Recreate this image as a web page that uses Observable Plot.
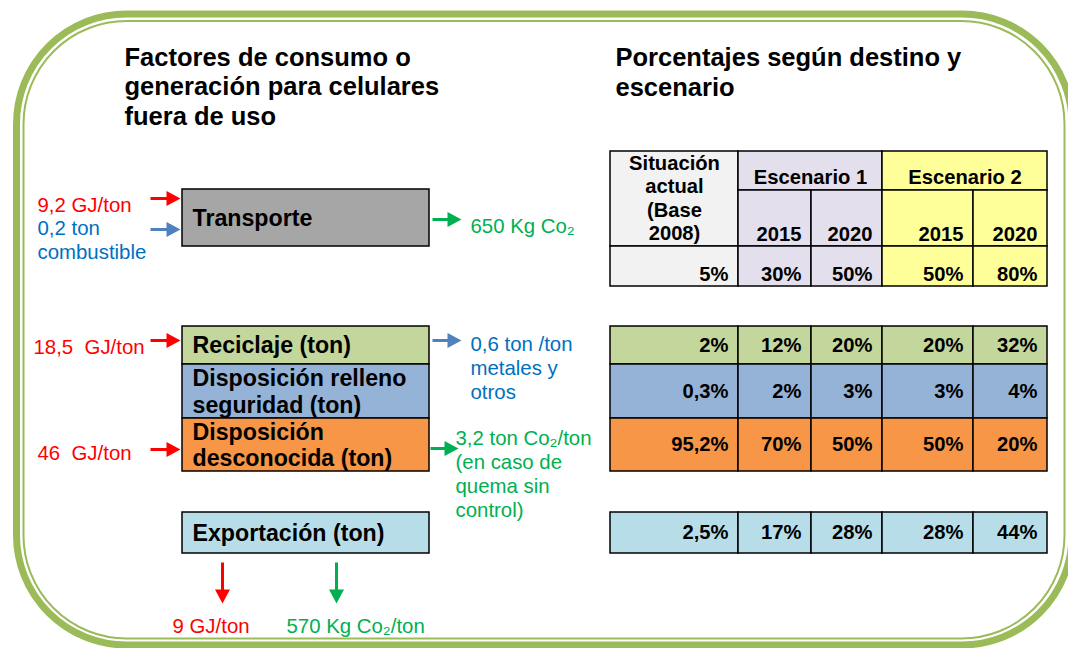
<!DOCTYPE html>
<html>
<head>
<meta charset="utf-8">
<script src="https://cdn.jsdelivr.net/npm/d3@7"></script>
<script src="https://cdn.jsdelivr.net/npm/@observablehq/plot@0.6"></script>
<style>
  html, body { margin: 0; padding: 0; background: white; overflow: hidden; }
</style>
</head>
<body>
<script>
// ---------- DATA ----------
const tituloIzq = "Factores de consumo o\ngeneración para celulares\nfuera de uso";
const tituloDer = "Porcentajes según destino y\nescenario";
const destinos = ["Transporte", "Reciclaje (ton)", "Disposición relleno\nseguridad (ton)", "Disposición\ndesconocida (ton)", "Exportación (ton)"];
const columnas = ["Situación\nactual\n(Base\n2008)", "2015", "2020", "2015", "2020"];
const escenarios = ["Escenario 1", "Escenario 2"];
const pctTotal = [5, 30, 50, 50, 80];
const pctReciclaje = [2, 12, 20, 20, 32];
const pctRelleno = [0.3, 2, 3, 3, 4];
const pctDesconocida = [95.2, 70, 50, 50, 20];
const pctExportacion = [2.5, 17, 28, 28, 44];
const entradas = ["9,2 GJ/ton", "0,2 ton\ncombustible", "18,5  GJ/ton", "46  GJ/ton"];
const salidas = ["650 Kg Co₂", "0,6 ton /ton\nmetales y\notros", "3,2 ton Co₂/ton\n(en caso de\nquema sin\ncontrol)"];
const salidasExportacion = ["9 GJ/ton", "570 Kg Co₂/ton"];

// ---------- STYLE / LAYOUT ----------
const W = 1068, H = 648;
const FONT = "'Liberation Sans', Arial, Helvetica, sans-serif";
const RED = "#FF0000", BLUE_T = "#0070C0", BLUE_A = "#4F81BD", GREEN = "#00B050", FRAME = "#9BBB59";
const fillDestino = ["#A6A6A6", "#C3D69B", "#95B3D7", "#F79646", "#B7DEE8"];
const fillCol = ["#F2F2F2", "#E4DFEC", "#E4DFEC", "#FFFF99", "#FFFF99"];
const fillEsc = ["#E4DFEC", "#FFFF99"];
const boxX = [182, 429];
const filas = [[189, 246], [326, 364], [364, 418], [418, 471], [512, 553]];
const colEdges = [610, 738, 811, 882, 973, 1047];
const tHead = [151, 190, 246], tVal = [246, 286];
const FT = 25.5, FB = 23.2, FTab = 20.2, FS = 20.4;
const fmt = v => String(v).replace(".", ",") + "%";

// boxes
const boxes = destinos.map((d, i) => ({x1: boxX[0], x2: boxX[1], y1: filas[i][0], y2: filas[i][1], fill: fillDestino[i], label: d}));

// table 1 cells
const t1 = [];
t1.push({x1: colEdges[0], x2: colEdges[1], y1: tHead[0], y2: tHead[2], fill: fillCol[0]});
escenarios.forEach((e, k) => t1.push({x1: colEdges[1 + 2 * k], x2: colEdges[3 + 2 * k], y1: tHead[0], y2: tHead[1], fill: fillEsc[k], label: e}));
columnas.forEach((c, j) => { if (j > 0) t1.push({x1: colEdges[j], x2: colEdges[j + 1], y1: tHead[1], y2: tHead[2], fill: fillCol[j], label: c}); });
pctTotal.forEach((v, j) => t1.push({x1: colEdges[j], x2: colEdges[j + 1], y1: tVal[0], y2: tVal[1], fill: fillCol[j], label: fmt(v)}));

// table 2 cells
const rowsT2 = [pctReciclaje, pctRelleno, pctDesconocida, pctExportacion];
const t2 = [];
rowsT2.forEach((row, r) => row.forEach((v, j) => t2.push({
  x1: colEdges[j], x2: colEdges[j + 1], y1: filas[r + 1][0], y2: filas[r + 1][1], fill: fillDestino[r + 1], label: fmt(v)
})));

// colored factor labels (first baseline)
const factLabels = [
  {x: 37, b: 209, text: entradas[0], fill: RED},
  {x: 37, b: 232, text: entradas[1], fill: BLUE_T},
  {x: 33, b: 351, text: entradas[2], fill: RED},
  {x: 37, b: 457, text: entradas[3], fill: RED},
  {x: 470, b: 230, text: salidas[0], fill: GREEN},
  {x: 470, b: 347.5, text: salidas[1], fill: BLUE_T},
  {x: 455, b: 442, text: salidas[2], fill: GREEN},
  {x: 172, b: 630, text: salidasExportacion[0], fill: RED},
  {x: 286, b: 630, text: salidasExportacion[1], fill: GREEN}
];

// arrows
const arrows = [
  {x1: 150, y1: 198, x2: 180, y2: 198, c: RED},
  {x1: 150, y1: 229, x2: 180, y2: 229, c: BLUE_A},
  {x1: 432, y1: 219, x2: 461, y2: 219, c: GREEN},
  {x1: 150, y1: 340, x2: 180, y2: 340, c: RED},
  {x1: 432, y1: 340, x2: 461, y2: 340, c: BLUE_A},
  {x1: 150, y1: 449, x2: 180, y2: 449, c: RED},
  {x1: 430, y1: 448, x2: 458, y2: 448, c: GREEN},
  {x1: 222, y1: 562, x2: 222, y2: 603, c: RED},
  {x1: 336, y1: 562, x2: 336, y2: 603, c: GREEN}
];
const HL = 14, HW = 7.5;
const shafts = [], heads = [];
arrows.forEach((a, i) => {
  const L = Math.hypot(a.x2 - a.x1, a.y2 - a.y1), ux = (a.x2 - a.x1) / L, uy = (a.y2 - a.y1) / L;
  const bx = a.x2 - ux * HL, by = a.y2 - uy * HL;
  shafts.push({x1: a.x1, y1: a.y1, x2: bx + ux * 1, y2: by + uy * 1, c: a.c});
  heads.push({id: i, x: bx - uy * HW, y: by + ux * HW, c: a.c});
  heads.push({id: i, x: a.x2, y: a.y2, c: a.c});
  heads.push({id: i, x: bx + uy * HW, y: by - ux * HW, c: a.c});
});

const frame = [
  {x1: 16.5, y1: 14, x2: 1072, y2: 645},
  {x1: 23.5, y1: 21, x2: 1064.5, y2: 638.5}
];

const chart = Plot.plot({
  width: W, height: H, margin: 0,
  x: {domain: [0, W], range: [0, W], axis: null},
  y: {domain: [0, H], range: [0, H], axis: null},
  color: {type: "identity"},
  style: {fontFamily: FONT, background: "white", overflow: "hidden"},
  marks: [
    Plot.rect([frame[0]], {x1: "x1", x2: "x2", y1: "y1", y2: "y2", rx: 110, ry: 110, fill: "none", stroke: FRAME, strokeWidth: 7}),
    Plot.rect([frame[1]], {x1: "x1", x2: "x2", y1: "y1", y2: "y2", rx: 103, ry: 103, fill: "none", stroke: FRAME, strokeWidth: 2}),
    // titles
    Plot.text([tituloIzq], {x: () => 124, y: () => 124, text: d => d, textAnchor: "start", lineAnchor: "bottom", fontSize: FT, fontWeight: "bold", lineHeight: 29.5 / FT, fill: "black"}),
    Plot.text([tituloDer], {x: () => 615, y: () => 95, text: d => d, textAnchor: "start", lineAnchor: "bottom", fontSize: FT, fontWeight: "bold", lineHeight: 29.5 / FT, fill: "black"}),
    // boxes
    Plot.rect(boxes, {x1: "x1", x2: "x2", y1: "y1", y2: "y2", fill: "fill", stroke: "black", strokeWidth: 1.5}),
    Plot.text(boxes, {x: d => d.x1 + 10, y: d => (d.y1 + d.y2) / 2 - 0.5, text: "label", textAnchor: "start", lineAnchor: "middle", fontSize: FB, fontWeight: "bold", lineHeight: 26.5 / FB, fill: "black"}),
    // table 1
    Plot.rect(t1, {x1: "x1", x2: "x2", y1: "y1", y2: "y2", fill: "fill", stroke: "black", strokeWidth: 1.5}),
    Plot.text([columnas[0]], {x: () => (colEdges[0] + colEdges[1]) / 2, y: () => 239.5, text: d => d, textAnchor: "middle", lineAnchor: "bottom", fontSize: FTab, fontWeight: "bold", lineHeight: 23.4 / FTab, fill: "black"}),
    Plot.text(t1.filter(d => escenarios.includes(d.label)), {x: d => (d.x1 + d.x2) / 2, y: () => 183, text: "label", textAnchor: "middle", lineAnchor: "bottom", fontSize: FTab, fontWeight: "bold", fill: "black"}),
    Plot.text(t1.filter(d => d.y1 === tHead[1]), {x: d => d.x2 - 10, y: () => 240, text: "label", textAnchor: "end", lineAnchor: "bottom", fontSize: FTab, fontWeight: "bold", fill: "black"}),
    Plot.text(t1.filter(d => d.y1 === tVal[0]), {x: d => d.x2 - 10, y: () => 280, text: "label", textAnchor: "end", lineAnchor: "bottom", fontSize: FTab, fontWeight: "bold", fill: "black"}),
    // table 2
    Plot.rect(t2, {x1: "x1", x2: "x2", y1: "y1", y2: "y2", fill: "fill", stroke: "black", strokeWidth: 1.5}),
    Plot.text(t2, {x: d => d.x2 - 10, y: d => (d.y1 + d.y2) / 2, text: "label", textAnchor: "end", lineAnchor: "middle", fontSize: FTab, fontWeight: "bold", fill: "black"}),
    // factor labels
    Plot.text(factLabels, {x: "x", y: d => d.b - 0.71 * FS, text: "text", fill: "fill", textAnchor: "start", lineAnchor: "top", fontSize: FS, lineHeight: 24 / FS}),
    // arrows
    Plot.link(shafts, {x1: "x1", y1: "y1", x2: "x2", y2: "y2", stroke: "c", strokeWidth: 3}),
    Plot.line(heads, {x: "x", y: "y", z: "id", fill: "c", stroke: "none"})
  ]
});
document.body.appendChild(chart);
</script>
</body>
</html>
